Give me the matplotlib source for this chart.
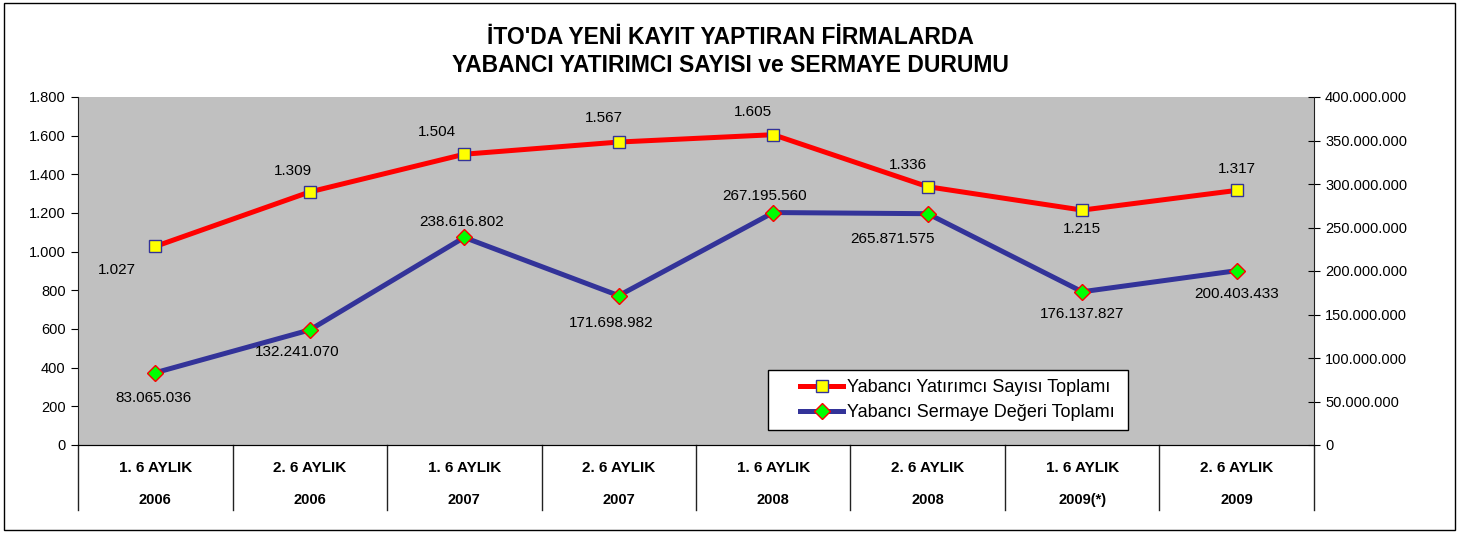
import matplotlib
matplotlib.use("Agg")
import matplotlib.pyplot as plt
from matplotlib.patches import Rectangle
from matplotlib.ticker import FuncFormatter
from matplotlib.lines import Line2D

plt.rcParams['font.family'] = ['Liberation Sans', 'DejaVu Sans']

periods = ["1. 6 AYLIK", "2. 6 AYLIK", "1. 6 AYLIK", "2. 6 AYLIK",
           "1. 6 AYLIK", "2. 6 AYLIK", "1. 6 AYLIK", "2. 6 AYLIK"]
years = ["2006", "2006", "2007", "2007", "2008", "2008", "2009(*)", "2009"]
investors = [1027, 1309, 1504, 1567, 1605, 1336, 1215, 1317]
capital = [83065036, 132241070, 238616802, 171698982,
           267195560, 265871575, 176137827, 200403433]

# label offsets in pixels (dx, dy) relative to the marker
inv_offsets = [(-38, -24), (-17, 21), (-27, 22), (-15, 24),
               (-20, 23), (-20, 22), (0, -19), (0, 21)]
cap_offsets = [(-2, -25), (-13, -22), (-3, 15), (-8, -27),
               (-9, 17), (-35, -25), (0, -22), (0, -23)]


def tr(v):
    return f"{int(v):,}".replace(",", ".")


fig = plt.figure(figsize=(14.6, 5.34), dpi=100)
fig.patches.append(Rectangle((4 / 1460, 4 / 534), 1451 / 1460, 527 / 534,
                             transform=fig.transFigure, fill=False,
                             edgecolor='black', linewidth=1))

ax = fig.add_axes([78 / 1460, 1 - 445 / 534, 1236 / 1460, 348 / 534])
ax.set_facecolor('#c0c0c0')
x = list(range(len(investors)))

ax.plot(x, investors, color='#ff0000', linewidth=3.6, marker='s',
        markersize=8.5, markerfacecolor='#ffff00', markeredgecolor='#333399',
        markeredgewidth=1, zorder=5)
ax.set_xlim(-0.5, len(x) - 0.5)
ax.set_ylim(0, 1800)
ax.set_yticks(range(0, 1801, 200))
ax.yaxis.set_major_formatter(FuncFormatter(lambda v, p: tr(v)))
ax.tick_params(axis='y', labelsize=10.5, direction='out', length=5, pad=4)
ax.set_xticks([])
for s in ['top', 'right']:
    ax.spines[s].set_visible(False)
ax.spines['left'].set_color('#222222')
ax.spines['bottom'].set_color('#222222')

ax2 = ax.twinx()
ax2.plot(x, capital, color='#333399', linewidth=3.6, marker='D',
         markersize=8.5, markerfacecolor='#00ff00', markeredgecolor='#ff0000',
         markeredgewidth=1, zorder=5)
ax2.set_ylim(0, 400000000)
ax2.set_yticks(range(0, 400000001, 50000000))
ax2.yaxis.set_major_formatter(FuncFormatter(lambda v, p: tr(v)))
ax2.tick_params(axis='y', labelsize=10.5, direction='inout', length=8, pad=4)
ax2.spines['top'].set_visible(False)
ax2.spines['left'].set_visible(False)
ax2.spines['right'].set_color('#222222')

for i, v in enumerate(investors):
    ax.annotate(tr(v), (i, v), xytext=inv_offsets[i], textcoords='offset pixels',
                ha='center', va='center', fontsize=11, zorder=6)
for i, v in enumerate(capital):
    ax2.annotate(tr(v), (i, v), xytext=cap_offsets[i], textcoords='offset pixels',
                 ha='center', va='center', fontsize=11, zorder=6)

# category separators and two-line labels
for b in [i - 0.5 for i in range(len(x) + 1)]:
    ax.plot([b, b], [0, -65 / 348], transform=ax.get_xaxis_transform(),
            color='#222222', linewidth=1, clip_on=False)
for i in x:
    ax.text(i, -23 / 348, periods[i], transform=ax.get_xaxis_transform(),
            ha='center', va='center', fontsize=11, fontweight='bold')
    ax.text(i, -55 / 348, years[i], transform=ax.get_xaxis_transform(),
            ha='center', va='center', fontsize=10.5, fontweight='bold')

fig.text(0.5, 1 - 38 / 534, "İTO'DA YENİ KAYIT YAPTIRAN FİRMALARDA",
         ha='center', va='center', fontsize=16.5, fontweight='bold')
fig.text(0.5, 1 - 66 / 534, "YABANCI YATIRIMCI SAYISI ve SERMAYE DURUMU",
         ha='center', va='center', fontsize=16.5, fontweight='bold')

# legend: frame drawn separately to match the box size
ax2.add_patch(Rectangle(((768 - 78) / 1236, (445 - 430) / 348), 360 / 1236, 60 / 348,
                        transform=ax2.transAxes, facecolor='white',
                        edgecolor='black', linewidth=1, zorder=7))
handles = [
    Line2D([], [], color='#ff0000', linewidth=3.6, marker='s', markersize=8.5,
           markerfacecolor='#ffff00', markeredgecolor='#333399'),
    Line2D([], [], color='#333399', linewidth=3.6, marker='D', markersize=8.5,
           markerfacecolor='#00ff00', markeredgecolor='#ff0000'),
]
leg = ax2.legend(handles, ["Yabancı Yatırımcı Sayısı Toplamı",
                           "Yabancı Sermaye Değeri Toplamı"],
                 loc='center left', bbox_to_anchor=((800 - 78) / 1236, (445 - 400) / 348),
                 fontsize=13, frameon=False, handlelength=2.4, handletextpad=0.2,
                 borderpad=0, labelspacing=0.45, borderaxespad=0)
leg.set_zorder(8)

fig.savefig("out.png", dpi=100)
